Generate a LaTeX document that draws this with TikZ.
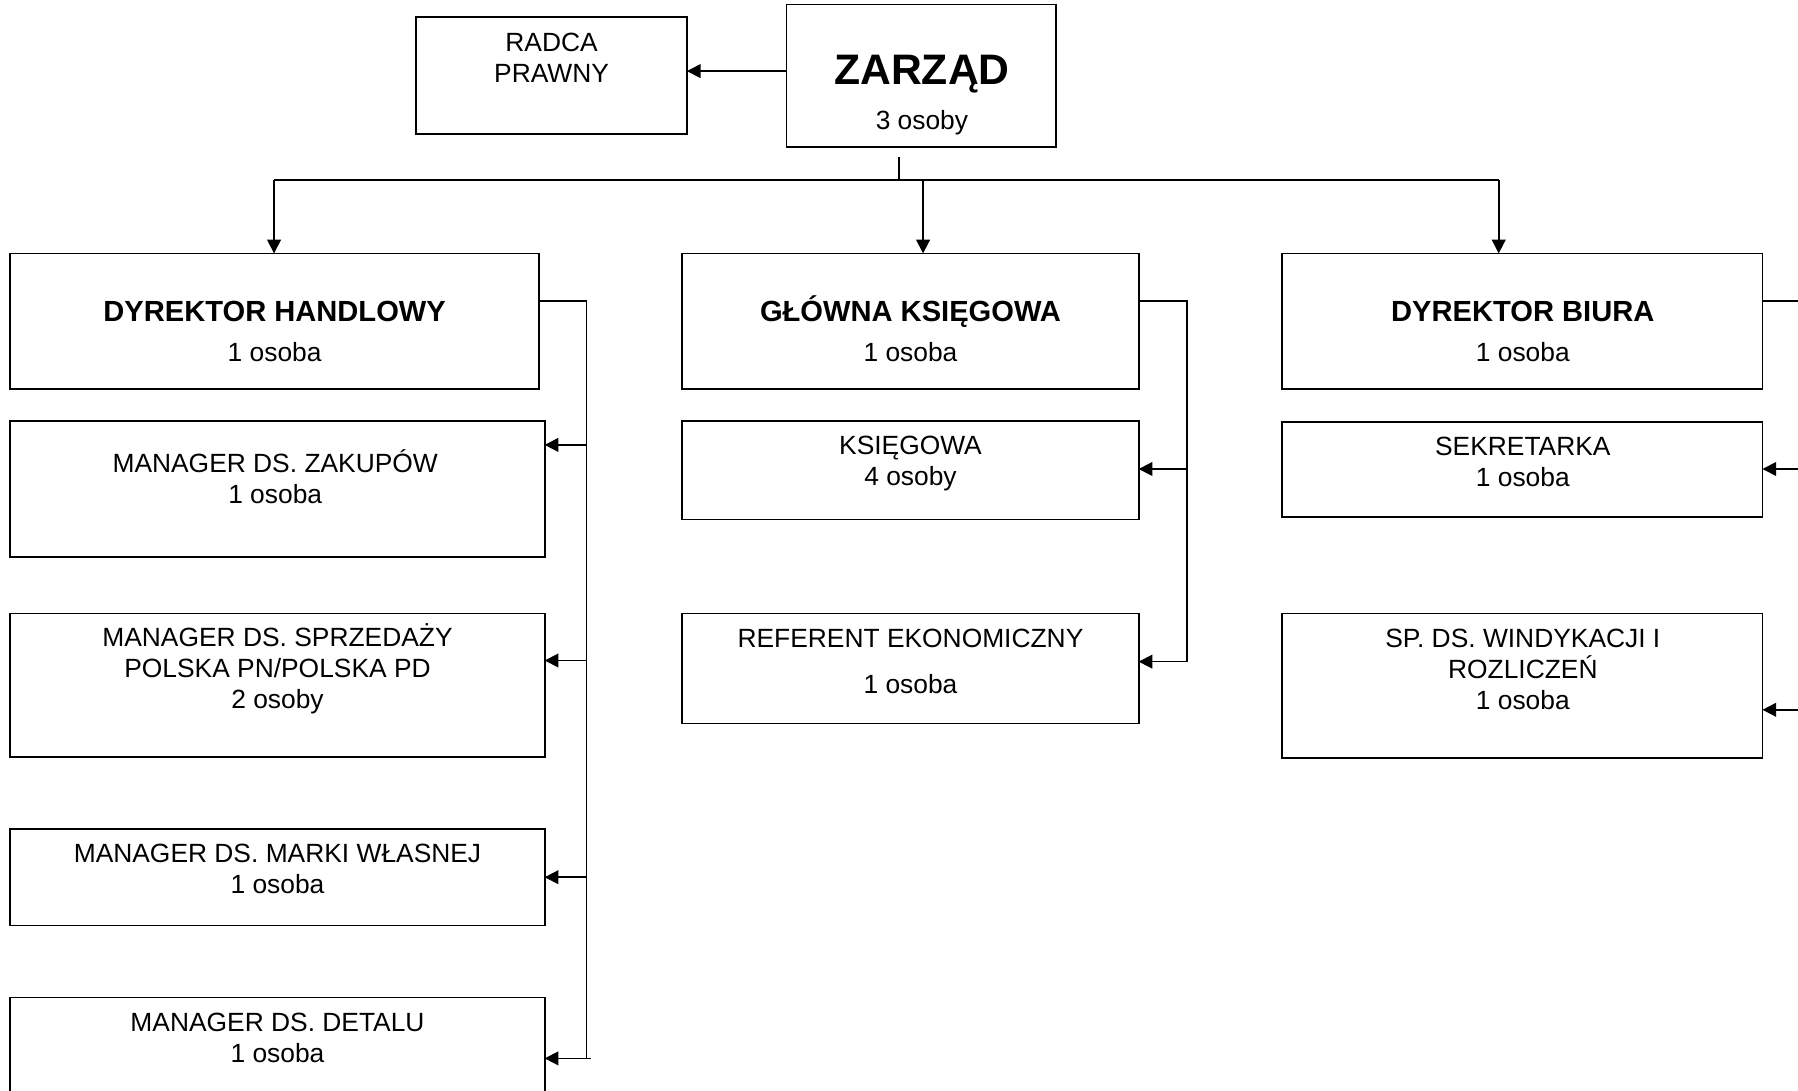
\documentclass[tikz,border=0pt]{standalone}
\usepackage{fontspec}
\setmainfont{Liberation Sans}
\usetikzlibrary{arrows.meta}
\begin{document}
\begin{tikzpicture}[x=0.5pt,y=-0.5pt,
  box/.style={draw, line width=0.75pt, rectangle, inner sep=0, outer sep=0, anchor=north west},
  ln/.style={line width=0.75pt},
  arr/.style={line width=0.75pt, -{Triangle[length=6pt,width=6pt]}},
  reg/.style={inner sep=0, align=center, font=\fontsize{11.5}{13.5}\selectfont},
  bld/.style={inner sep=0, align=center, font=\fontsize{12.7}{15}\selectfont\bfseries},
]
\useasboundingbox (0,0) rectangle (1568,951);
\clip (0,0) rectangle (1568,951);
% boxes
\node[box, minimum width=117.5pt, minimum height=62pt] (zarzad) at (686,4) {};
\node[box, minimum width=118pt, minimum height=51pt] (radca) at (363,15) {};
\node[box, minimum width=230.5pt, minimum height=59pt] (dh) at (9,221) {};
\node[box, minimum width=199pt, minimum height=59pt] (gk) at (595,221) {};
\node[box, minimum width=209.5pt, minimum height=59pt] (db) at (1118,221) {};
\node[box, minimum width=233pt, minimum height=59.5pt] (mz) at (9,367) {};
\node[box, minimum width=233pt, minimum height=62.5pt] (ms) at (9,535) {};
\node[box, minimum width=233pt, minimum height=42pt] (mmw) at (9,723) {};
\node[box, minimum width=233pt, minimum height=50pt] (md) at (9,870) {};
\node[box, minimum width=199pt, minimum height=43pt] (ks) at (595,367) {};
\node[box, minimum width=199pt, minimum height=48pt] (ref) at (595,535) {};
\node[box, minimum width=209.5pt, minimum height=41.5pt] (sek) at (1118,368) {};
\node[box, minimum width=209.5pt, minimum height=63pt] (sp) at (1118,535) {};
% texts
\node[inner sep=0, font=\fontsize{18.6}{22}\selectfont\bfseries] (t-zarzad) at (804,65) {ZARZĄD};
\node[reg] (t-zarzad2) at (804,107) {3 osoby};
\node[reg] (t-radca) at (481,50) {RADCA\\PRAWNY};
\node[bld] (t-dh) at (239.5,272) {DYREKTOR HANDLOWY};
\node[reg] (t-dh2) at (239.5,307) {1 osoba};
\node[bld] (t-gk) at (794,272) {GŁÓWNA KSIĘGOWA};
\node[reg] (t-gk2) at (794,307) {1 osoba};
\node[bld] (t-db) at (1328,272) {DYREKTOR BIURA};
\node[reg] (t-db2) at (1328,307) {1 osoba};
\node[reg] (t-mz) at (240,416) {MANAGER DS. ZAKUPÓW\\1 osoba};
\node[reg] (t-ms) at (242,583) {MANAGER DS. SPRZEDAŻY\\POLSKA PN/POLSKA PD\\2 osoby};
\node[reg] (t-mmw) at (242,758) {MANAGER DS. MARKI WŁASNEJ\\1 osoba};
\node[reg] (t-md) at (242,905) {MANAGER DS. DETALU\\1 osoba};
\node[reg] (t-ks) at (794,404) {KSIĘGOWA\\4 osoby};
\node[reg] (t-ref) at (794,557) {REFERENT EKONOMICZNY};
\node[reg] (t-ref2) at (794,597) {1 osoba};
\node[reg] (t-sek) at (1328,403) {SEKRETARKA\\1 osoba};
\node[reg] (t-sp) at (1328,584) {SP. DS. WINDYKACJI I\\ROZLICZEŃ\\1 osoba};
% top connectors
\draw[arr] ([yshift=2pt]zarzad.west) -- ([yshift=2pt]radca.east);
\coordinate (stubT) at (784,137);
\coordinate (stubB) at (784,157);
\coordinate (busL) at (239,157);
\coordinate (busM) at (805,157);
\coordinate (busR) at (1307,157);
\draw[ln] (stubT) -- (stubB);
\draw[ln] (busL) -- (busR);
\draw[arr] (busL) -- (dh.north -| busL);
\draw[arr] (busM) -- (gk.north -| busM);
\draw[arr] (busR) -- (db.north -| busR);
% DH column
\coordinate (dhA) at (511.5,262.5);
\coordinate (dhB) at (511.5,923);
\coordinate (dh1) at (511.5,388);
\coordinate (dh2) at (511.5,576);
\coordinate (dh3) at (511.5,765);
\coordinate (dh4) at (515,923);
\draw[ln] (dh.east |- dhA) -- (dhA) -- (dhB);
\draw[arr] (dh1) -- (mz.east |- dh1);
\draw[arr] (dh2) -- (ms.east |- dh2);
\draw[arr] (dh3) -- (mmw.east |- dh3);
\draw[arr] (dh4) -- (md.east |- dh4);
% GK column
\coordinate (gkA) at (1035,262.5);
\coordinate (gkB) at (1035,577);
\coordinate (gk1) at (1035,409);
\draw[ln] (gk.east |- gkA) -- (gkA) -- (gkB);
\draw[arr] (gk1) -- (ks.east |- gk1);
\draw[arr] (gkB) -- (ref.east |- gkB);
% DB column
\coordinate (dbA) at (1585,262.5);
\coordinate (dbB) at (1585,619);
\coordinate (db1) at (1585,409);
\draw[ln] (db.east |- dbA) -- (dbA) -- (dbB);
\draw[arr] (db1) -- (sek.east |- db1);
\draw[arr] (dbB) -- (sp.east |- dbB);
\end{tikzpicture}
\end{document}
